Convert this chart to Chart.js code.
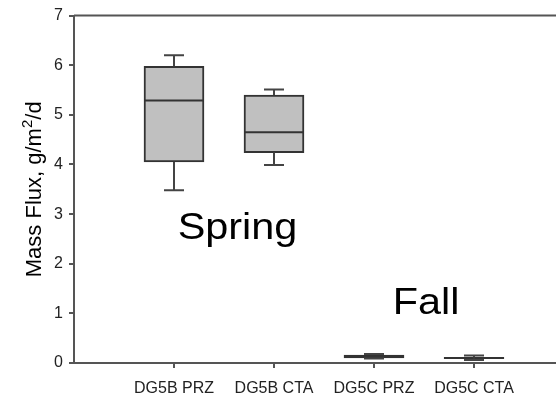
<!DOCTYPE html>
<html>
<head>
<meta charset="utf-8">
<script src="https://cdn.jsdelivr.net/npm/chart.js@4.4.1/dist/chart.umd.min.js"></script>
<style>
  html, body { margin: 0; padding: 0; background: #fff; }
  #wrap { width: 556px; height: 394px; position: relative; }
</style>
</head>
<body>
<div id="wrap"><canvas id="c" width="556" height="394"></canvas></div>
<script>
// Sampling sites and box-plot statistics of mass flux (g/m²/d)
const categories = ['DG5B PRZ', 'DG5B CTA', 'DG5C PRZ', 'DG5C CTA'];
const whiskerLow  = [3.48, 3.99, 0.09, 0.06];
const quartile1   = [4.05, 4.24, 0.10, 0.09];
const medians     = [5.29, 4.65, 0.13, 0.10];
const quartile3   = [5.98, 5.40, 0.16, 0.11];
const whiskerHigh = [6.20, 5.51, 0.18, 0.15];
const yTicks = [0, 1, 2, 3, 4, 5, 6, 7];
const seasonLabels = ['Spring', 'Fall'];
// season label anchors in data units (x position, baseline value)
const seasonAnchors = [[1.635, 2.49], [3.52, 0.98]];

const FONT = '"Liberation Sans", Arial, sans-serif';
const AXIS = '#555555';
const EDGE = '#333333';

// boxes are floating bars from Q1 to Q3
const boxData = categories.map((c, i) => ({ x: i + 1, y: [quartile1[i], quartile3[i]] }));

const boxDetails = {
  id: 'boxDetails',
  afterDatasetsDraw(chart) {
    const { ctx, scales: { x, y }, chartArea } = chart;
    ctx.save();
    // medians and whiskers
    categories.forEach((c, i) => {
      const cx = x.getPixelForValue(i + 1);
      const half = 30, cap = 10;
      ctx.strokeStyle = EDGE;
      ctx.lineWidth = 2;
      ctx.beginPath();
      ctx.moveTo(cx - half, y.getPixelForValue(medians[i]));
      ctx.lineTo(cx + half, y.getPixelForValue(medians[i]));
      ctx.stroke();
      ctx.strokeStyle = '#444444';
      ctx.beginPath();
      ctx.moveTo(cx, y.getPixelForValue(quartile3[i]));
      ctx.lineTo(cx, y.getPixelForValue(whiskerHigh[i]));
      ctx.moveTo(cx - cap, y.getPixelForValue(whiskerHigh[i]));
      ctx.lineTo(cx + cap, y.getPixelForValue(whiskerHigh[i]));
      ctx.moveTo(cx, y.getPixelForValue(quartile1[i]));
      ctx.lineTo(cx, y.getPixelForValue(whiskerLow[i]));
      ctx.moveTo(cx - cap, y.getPixelForValue(whiskerLow[i]));
      ctx.lineTo(cx + cap, y.getPixelForValue(whiskerLow[i]));
      ctx.stroke();
    });
    // top frame line
    ctx.strokeStyle = AXIS;
    ctx.lineWidth = 2;
    ctx.beginPath();
    ctx.moveTo(chartArea.left, chartArea.top);
    ctx.lineTo(chartArea.right, chartArea.top);
    ctx.stroke();
    // season labels, slightly widened
    ctx.fillStyle = '#000';
    ctx.font = '36px ' + FONT;
    ctx.textAlign = 'center';
    ctx.textBaseline = 'alphabetic';
    seasonLabels.forEach((t, i) => {
      const px = x.getPixelForValue(seasonAnchors[i][0]);
      const py = y.getPixelForValue(seasonAnchors[i][1]);
      ctx.save();
      ctx.translate(px, py);
      ctx.scale(1.15, 1);
      ctx.fillText(t, 0, 0);
      ctx.restore();
    });
    // y axis title with a raised exponent
    const parts = [['Mass Flux, g/m', 22, 0], ['2', 15, -9], ['/d', 22, 0]];
    let total = 0;
    parts.forEach(p => { ctx.font = p[1] + 'px ' + FONT; total += ctx.measureText(p[0]).width; });
    const midY = (chartArea.top + chartArea.bottom) / 2;
    ctx.save();
    ctx.translate(41, midY);
    ctx.rotate(-Math.PI / 2);
    ctx.textAlign = 'left';
    let cursor = -total / 2;
    parts.forEach(p => {
      ctx.font = p[1] + 'px ' + FONT;
      ctx.fillText(p[0], cursor, p[2]);
      cursor += ctx.measureText(p[0]).width;
    });
    ctx.restore();
    ctx.restore();
  }
};

new Chart(document.getElementById('c'), {
  type: 'bar',
  data: {
    datasets: [{
      data: boxData,
      backgroundColor: '#c0c0c0',
      borderColor: EDGE,
      borderWidth: 2,
      borderSkipped: false,
      barThickness: 60
    }]
  },
  options: {
    responsive: false,
    animation: false,
    devicePixelRatio: 1,
    layout: { padding: { top: 15, right: 0, bottom: 0, left: 0 } },
    plugins: { legend: { display: false }, tooltip: { enabled: false } },
    scales: {
      x: {
        type: 'linear',
        offset: false,
        min: 0,
        max: 4.82,
        afterBuildTicks(s) { s.ticks = categories.map((c, i) => ({ value: i + 1 })); },
        afterFit(s) { s.height = 31; },
        ticks: {
          callback: (v) => categories[v - 1] || '',
          color: '#222',
          font: { family: FONT, size: 16 },
          padding: 11,
          maxRotation: 0,
          autoSkip: false
        },
        grid: { offset: false, drawOnChartArea: false, drawTicks: true, tickLength: 5, color: AXIS, lineWidth: 2 },
        border: { display: true, color: AXIS, width: 2 }
      },
      y: {
        min: 0,
        max: 7,
        afterBuildTicks(s) { s.ticks = yTicks.map(v => ({ value: v })); },
        afterFit(s) { s.width = 74; },
        ticks: {
          color: '#222',
          font: { family: FONT, size: 16 },
          padding: 6
        },
        grid: { drawOnChartArea: false, drawTicks: true, tickLength: 5, color: AXIS, lineWidth: 2 },
        border: { display: true, color: AXIS, width: 2 }
      }
    }
  },
  plugins: [boxDetails]
});
</script>
</body>
</html>
